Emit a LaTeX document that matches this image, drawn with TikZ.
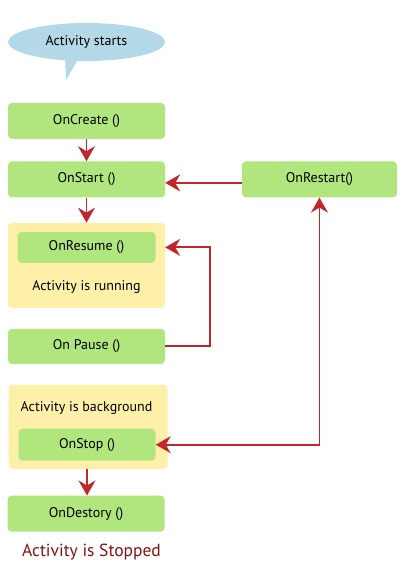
\documentclass[tikz,border=0pt]{standalone}
\usepackage{fontspec}
\setmainfont{PT Sans}
\usepackage{tikz}
\usetikzlibrary{shapes.geometric, arrows.meta, positioning}
\definecolor{callgreen}{RGB}{177,229,125}
\definecolor{startblue}{RGB}{179,216,232}
\definecolor{stateyellow}{RGB}{254,240,168}
\definecolor{arrowred}{RGB}{192,39,45}
\definecolor{endred}{RGB}{128,20,20}
\tikzstyle{Start} = [ellipse,
                     minimum width=157pt,
                     minimum height=38pt,
                     text centered,
                     fill=startblue,
                     font=\fontsize{14}{16}\selectfont]
\tikzstyle{Call} = [rectangle,
                    rounded corners=4pt,
                    minimum width=157pt,
                    minimum height=36pt,
                    text centered,
                    fill=callgreen,
                    font=\fontsize{14}{16}\selectfont]
\tikzstyle{Inner_Call} = [Call,
                          minimum width=138pt,
                          minimum height=32pt]
\tikzstyle{State} = [rectangle,
                     rounded corners=4pt,
                     minimum width=157pt,
                     minimum height=85pt,
                     fill=stateyellow]
\tikzstyle{State_Text} = [text centered,
                          font=\fontsize{14}{16}\selectfont]
\tikzstyle{Flow} = [draw=arrowred,
                    line width=1.8pt,
                    -{Stealth[length=15pt,width=17pt,inset=5pt]}]

\begin{document}
\begin{tikzpicture}
        \path[use as bounding box] (0,0) rectangle (400pt,-582pt);

        \node (start) [Start] at (86.5pt,-42pt) {Activity starts};
        \fill[startblue] (65pt,-56pt) -- (80pt,-56pt) -- (66pt,-80pt) -- cycle;

        \node (create) [Call, below of=start, yshift=-50.5pt] {OnCreate ()};
        \node (onstart) [Call, below of=create, yshift=-30pt] {OnStart ()};
        \node (restart) [Call, right of=onstart, xshift=204.5pt, minimum width=155pt] {OnRestart()};

        \node (running) [State, below of=onstart, yshift=-57.5pt] {};
        \node (resume) [Inner_Call, below of=onstart, yshift=-39.5pt, minimum height=31pt] {OnResume ()};
        \node (runtext) [State_Text, below of=resume, yshift=-11pt] {Activity is running};

        \node (pause) [Call, below of=running, yshift=-52.5pt, minimum height=35pt] {On Pause ()};

        \node (background) [State, below of=pause, yshift=-52pt, xshift=1.5pt, minimum width=159pt, minimum height=84pt] {};
        \node (bgtext) [State_Text, below of=pause, yshift=-33pt] {Activity is background};
        \node (stop) [Inner_Call, below of=bgtext, yshift=-8.5pt, xshift=0.5pt, minimum width=137pt] {OnStop ()};

        \node (destroy) [Call, below of=stop, yshift=-40.5pt, xshift=-1pt] {OnDestory ()};
        \node (stopped) [below of=destroy, yshift=-9.5pt, xshift=5.5pt, text=endred, font=\fontsize{17.5}{20}\selectfont] {Activity is Stopped};

        \draw[Flow] (create) -- (onstart);
        \draw[Flow] ([yshift=-3.5pt]restart.west) -- ([yshift=-3.5pt]onstart.east);
        \draw[Flow] (onstart) -- (running);
        \draw[Flow] (pause.east) -- ++(45pt,0) |- (resume -| running.east);
        \draw[Flow, {Stealth[length=15pt,width=17pt,inset=5pt]}-{Stealth[length=15pt,width=17pt,inset=5pt]}] (stop.east) -| (restart.south);
        \draw[Flow] (background.south -| stop) -- (stop |- destroy.north);
    \end{tikzpicture}
\end{document}
